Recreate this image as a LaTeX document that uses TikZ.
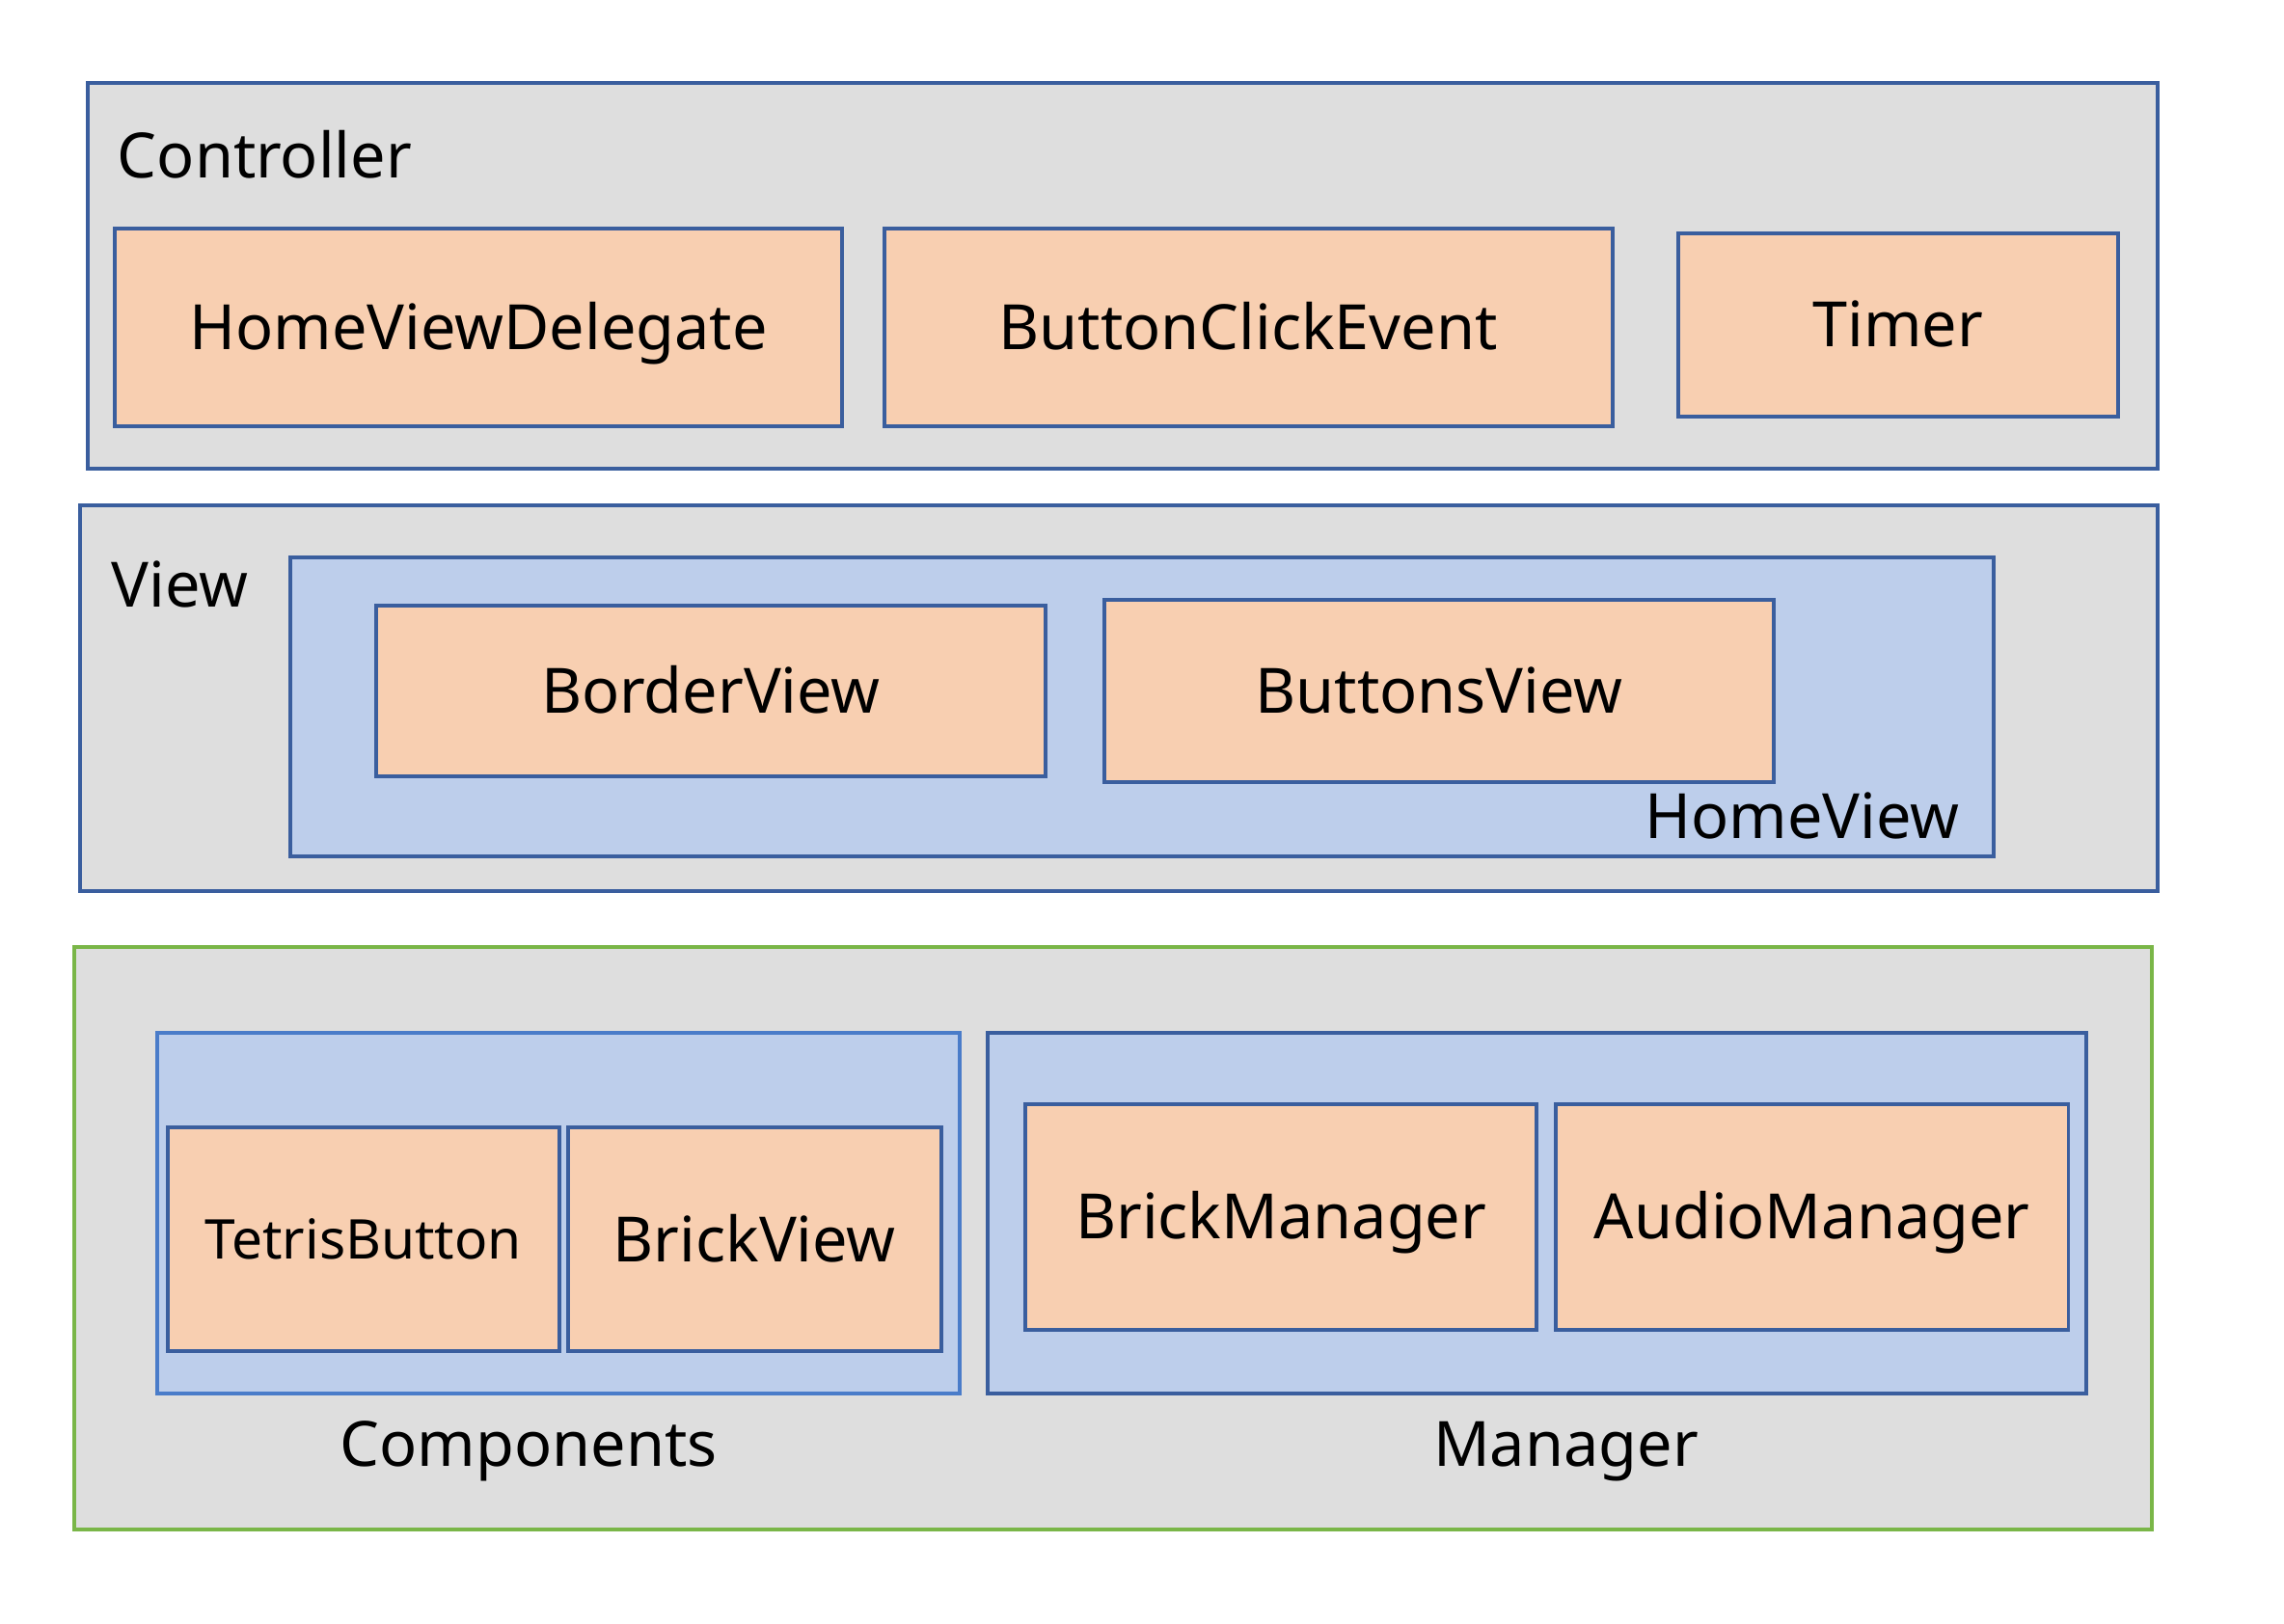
\documentclass[tikz,border=0pt]{standalone}
\usepackage{fontspec}
\setmainfont{Noto Sans}
\usetikzlibrary{fit}

\definecolor{layergray}{HTML}{DEDEDE}
\definecolor{edgeblue}{HTML}{3A5E9E}
\definecolor{lightedge}{HTML}{4A7CC9}
\definecolor{groupblue}{HTML}{BDCEEB}
\definecolor{clsorange}{HTML}{F8CFB1}
\definecolor{modelgreen}{HTML}{7AB648}

\tikzset{
  layer/.style={draw=edgeblue, fill=layergray, line width=0.75pt, inner sep=0pt},
  group/.style={draw=edgeblue, fill=groupblue, line width=0.75pt, inner sep=0pt},
  cls/.style={draw=edgeblue, fill=clsorange, line width=0.75pt, inner sep=0pt},
  lbl/.style={inner sep=0pt, font=\fontsize{12.2}{14}\selectfont},
  clstext/.style={lbl, text height=8.7pt, text depth=0pt}
}

\begin{document}
\begin{tikzpicture}[x=0.01cm,y=-0.01cm]
\useasboundingbox (0,0) rectangle (1568,1115);

% controller layer
\node[layer, fit={(60,57) (1481,322)}] (ctrl) {};
\node[lbl, anchor=base west] (ctrllbl) at (80,122) {Controller};
\node[cls, fit={(79,157) (578,293)}] (hvd) {};
\node[clstext] at (hvd.center) {HomeViewDelegate};
\node[cls, fit={(607,157) (1107,293)}] (bce) {};
\node[clstext] at (bce.center) {ButtonClickEvent};
\node[cls, fit={(1152,160) (1454,286)}] (timer) {};
\node[clstext] at (timer.center) {Timer};

% view layer
\node[layer, fit={(55,347) (1481,612)}] (view) {};
\node[lbl, anchor=base west] (viewlbl) at (76,417) {View};
\node[group, fit={(199,383) (1369,588)}] (home) {};
\node[cls, fit={(258,416) (718,533)}] (border) {};
\node[clstext] at (border.center) {BorderView};
\node[cls, fit={(758,412) (1218,537)}] (buttons) {};
\node[clstext] at (buttons.center) {ButtonsView};
\node[lbl, anchor=base east] (homelbl) at (1346,576) {HomeView};

% model layer
\node[layer, draw=modelgreen, fit={(51,650) (1477,1050)}] (model) {};
\node[group, draw=lightedge, fit={(108,709) (659,957)}] (comp) {};
\node[cls, fit={(115,774) (384,928)}] (tetris) {};
\node[clstext, font=\fontsize{10.7}{13}\selectfont, text height=7.6pt] at (tetris.center) {TetrisButton};
\node[cls, fit={(390,774) (646,928)}] (brickview) {};
\node[clstext] at (brickview.center) {BrickView};
\node[lbl, anchor=base] (complbl) at (363,1007) {Components};
\node[group, fit={(678,709) (1432,957)}] (mgr) {};
\node[cls, fit={(704,758) (1055,913)}] (brickmgr) {};
\node[clstext] at (brickmgr.center) {BrickManager};
\node[cls, fit={(1068,758) (1420,913)}] (audiomgr) {};
\node[clstext] at (audiomgr.center) {AudioManager};
\node[lbl, anchor=base] (mgrlbl) at (1075,1007) {Manager};
\end{tikzpicture}
\end{document}
